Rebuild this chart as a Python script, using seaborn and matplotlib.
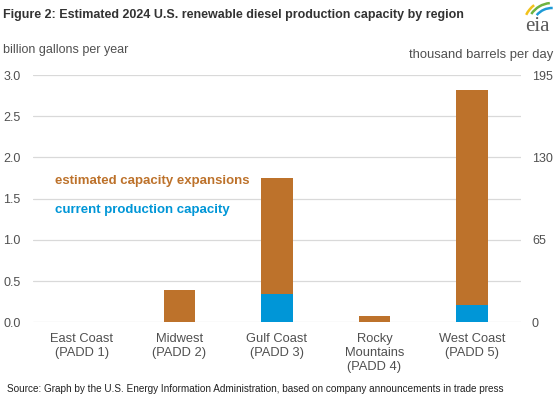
import numpy as np
import pandas as pd
import matplotlib
matplotlib.use("Agg")
import matplotlib.pyplot as plt
import seaborn as sns
from matplotlib.patches import Arc

regions = ["East Coast\n(PADD 1)", "Midwest\n(PADD 2)", "Gulf Coast\n(PADD 3)",
           "Rocky\nMountains\n(PADD 4)", "West Coast\n(PADD 5)"]
current = [0.0, 0.0, 0.35, 0.0, 0.21]
expansion = [0.0, 0.39, 1.40, 0.08, 2.61]

df = pd.DataFrame({"region": regions, "current": current, "expansion": expansion})
df["total"] = df["current"] + df["expansion"]

brown = "#BD722B"
blue = "#0096D7"
grey = "#505050"

sns.set_style("white")
plt.rcParams["font.family"] = ["Liberation Sans", "DejaVu Sans"]

fig = plt.figure(figsize=(5.6, 3.97), dpi=100)
ax = fig.add_axes([0.059, 0.188, 0.871, 0.623])

sns.barplot(data=df, x="region", y="total", color=brown, width=0.32,
            saturation=1, linewidth=0, ax=ax)
sns.barplot(data=df, x="region", y="current", color=blue, width=0.32,
            saturation=1, linewidth=0, ax=ax)

ax.set_ylim(0, 3.0)
ax.set_yticks(np.arange(0, 3.01, 0.5))
ax.set_yticklabels([f"{v:.1f}" for v in np.arange(0, 3.01, 0.5)])
ax.set_xlim(-0.5, 4.5)
ax.grid(axis="y", color="#d9d9d9", linewidth=0.9)
ax.set_axisbelow(True)
for s in ax.spines.values():
    s.set_visible(False)
ax.set_xlabel("")
ax.set_ylabel("")
ax.tick_params(axis="y", length=0, pad=9, labelsize=9, labelcolor=grey)
ax.tick_params(axis="x", length=0, pad=8, labelsize=9.3, labelcolor=grey)

ax2 = ax.twinx()
ax2.set_ylim(0, 195)
ax2.set_yticks([0, 65, 130, 195])
for s in ax2.spines.values():
    s.set_visible(False)
ax2.tick_params(axis="y", length=0, pad=8, labelsize=9, labelcolor=grey)

ax.text(0.045, 1.72, "estimated capacity expansions", color=brown,
        fontsize=9.5, fontweight="bold", va="center", transform=ax.get_yaxis_transform())
ax.text(0.045, 1.36, "current production capacity", color=blue,
        fontsize=9.5, fontweight="bold", va="center", transform=ax.get_yaxis_transform())

fig.text(0.006, 0.962, "Figure 2: Estimated 2024 U.S. renewable diesel production capacity by region",
         fontsize=9, fontweight="bold", color="#333333", va="center")
fig.text(0.006, 0.873, "billion gallons per year", fontsize=9, color=grey, va="center")
fig.text(0.988, 0.861, "thousand barrels per day", fontsize=9.4, color=grey,
         va="center", ha="right")
fig.text(0.012, 0.02, "Source: Graph by the U.S. Energy Information Administration, "
         "based on company announcements in trade press", fontsize=7.2, color="#222222",
         va="center")

# eia logo
fig.text(0.9595, 0.932, "eia", family="Liberation Serif", fontsize=15, color="#5a5a5a",
         va="center", ha="center")
for r, t1, t2, c in [(0.29, 128, 153, "#F2C21B"), (0.25, 95, 146, "#6DB33F"),
                     (0.20, 88, 140, "#1E9AD6")]:
    fig.add_artist(Arc((5.52, 3.69), 2 * r, 2 * r, theta1=t1, theta2=t2, color=c,
                       linewidth=1.8, transform=fig.dpi_scale_trans))

fig.savefig("out.png", dpi=100)
